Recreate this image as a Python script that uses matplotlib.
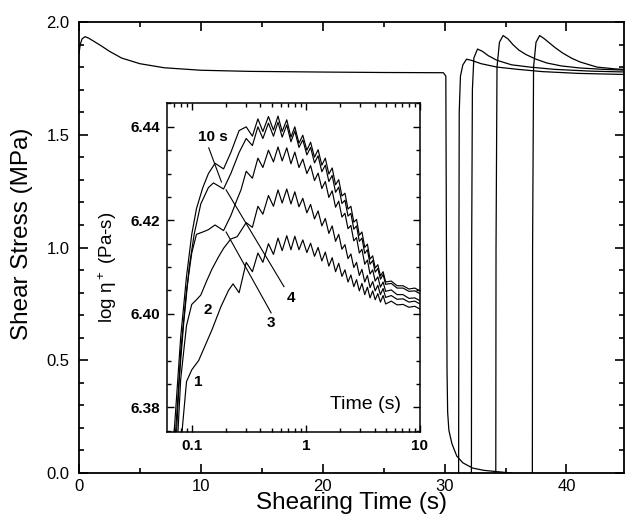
import matplotlib
matplotlib.use("Agg")
import matplotlib.pyplot as plt
from matplotlib.ticker import MultipleLocator, FixedLocator, NullFormatter

plt.rcParams['font.family'] = ['Liberation Sans', 'DejaVu Sans']
plt.rcParams['mathtext.default'] = 'regular'

# ---- main plot: shear stress vs shearing time ----
t_start = [0, 0.1, 0.25, 0.5, 0.8, 1.2, 1.8, 2.5, 3.5, 5, 7, 10, 14, 20, 25, 29.9,
           30.1, 30.15, 30.2, 30.25, 30.35, 30.6, 31.0, 31.5, 32.3, 33.2, 34.3, 35.5]
s_start = [1.86, 1.90, 1.925, 1.935, 1.928, 1.915, 1.895, 1.87, 1.84, 1.815, 1.797, 1.786,
           1.781, 1.778, 1.776, 1.775, 1.76, 1.0, 0.45, 0.27, 0.19, 0.13, 0.075, 0.045,
           0.022, 0.012, 0.006, 0.0]

t_r1 = [31.15, 31.17, 31.2, 31.3, 31.5, 31.8, 32.2, 33, 34.3, 36, 38, 41, 45]
s_r1 = [0, 0.9, 1.6, 1.76, 1.81, 1.835, 1.83, 1.815, 1.80, 1.79, 1.78, 1.772, 1.767]
t_r2 = [32.2, 32.22, 32.28, 32.4, 32.7, 33.1, 33.6, 34.3, 35.5, 37, 39, 42, 45]
s_r2 = [0, 1.0, 1.7, 1.84, 1.88, 1.87, 1.85, 1.83, 1.81, 1.80, 1.79, 1.782, 1.778]
t_r3 = [34.2, 34.22, 34.3, 34.5, 34.8, 35.2, 35.6, 36.1, 36.7, 37.5, 38.4, 39.6, 41.1, 43, 45]
s_r3 = [0, 1.0, 1.8, 1.91, 1.94, 1.925, 1.90, 1.875, 1.855, 1.835, 1.818, 1.805, 1.796, 1.79, 1.786]
t_r4 = [37.2, 37.22, 37.3, 37.5, 37.8, 38.2, 38.6, 39.1, 39.7, 40.4, 41.1, 42.5, 44, 45]
s_r4 = [0, 1.0, 1.8, 1.91, 1.94, 1.925, 1.907, 1.885, 1.862, 1.84, 1.823, 1.80, 1.792, 1.789]

# ---- inset: log eta+ vs time, rest times 1, 2, 3, 4, 10 s ----
# early (non-oscillating) part of each curve
tA0 = [0.068, 0.075, 0.08, 0.09, 0.10, 0.11, 0.125, 0.14, 0.16, 0.19, 0.22, 0.26]
yA0 = [6.370, 6.385, 6.395, 6.408, 6.417, 6.4225, 6.427, 6.430, 6.4322, 6.4310, 6.4345, 6.4392]
tB0 = [0.070, 0.077, 0.085, 0.095, 0.105, 0.12, 0.14, 0.155, 0.19, 0.22, 0.26]
yB0 = [6.370, 6.385, 6.398, 6.410, 6.417, 6.4235, 6.427, 6.428, 6.4267, 6.4300, 6.4345]
tC0 = [0.072, 0.08, 0.09, 0.10, 0.11, 0.125, 0.14, 0.16, 0.19, 0.22, 0.25, 0.27]
yC0 = [6.370, 6.392, 6.405, 6.413, 6.4170, 6.4175, 6.4180, 6.4190, 6.4178, 6.4210, 6.4245, 6.4265]
tD0 = [0.074, 0.08, 0.09, 0.10, 0.11, 0.12, 0.135, 0.15, 0.17, 0.19, 0.22, 0.25]
yD0 = [6.370, 6.386, 6.3975, 6.4020, 6.4030, 6.4040, 6.4070, 6.4095, 6.4120, 6.4140, 6.4160, 6.4165]
tE0 = [0.082, 0.09, 0.10, 0.115, 0.13, 0.15, 0.18, 0.21, 0.23, 0.26]
yE0 = [6.3745, 6.3855, 6.3880, 6.3900, 6.3930, 6.3965, 6.4015, 6.4050, 6.4064, 6.4045]

# oscillating part, read on a common time grid
t_osc = [0.30, 0.34, 0.38, 0.42, 0.47, 0.52, 0.57, 0.62, 0.68, 0.74, 0.80, 0.87, 0.94, 1.02,
         1.10, 1.19, 1.28, 1.38, 1.48, 1.59, 1.70, 1.82, 1.94, 2.07, 2.20, 2.34, 2.48, 2.63,
         2.78, 2.94, 3.10, 3.28, 3.46, 3.65, 3.85, 4.05, 4.27, 4.50, 4.75, 5.0, 5.6, 6.3,
         7.1, 8.0, 9.0, 10.0]
yA = [6.4400, 6.4380, 6.4417, 6.4390, 6.4422, 6.4393, 6.4423, 6.4390, 6.4415, 6.4378,
      6.4400, 6.4365, 6.4382, 6.4350, 6.4367, 6.4335, 6.4351, 6.4318, 6.4333, 6.4299,
      6.4312, 6.4276, 6.4287, 6.4252, 6.4258, 6.4224, 6.4230, 6.4196, 6.4202, 6.4168,
      6.4175, 6.4142, 6.4149, 6.4117, 6.4124, 6.4098, 6.4105, 6.4081, 6.4090, 6.4068,
      6.4070, 6.4060, 6.4060, 6.4053, 6.4055, 6.4049]
yB = [6.4375, 6.4360, 6.4400, 6.4375, 6.4408, 6.4380, 6.4410, 6.4378, 6.4404, 6.4368,
      6.4391, 6.4356, 6.4372, 6.4340, 6.4356, 6.4323, 6.4338, 6.4304, 6.4318, 6.4283,
      6.4296, 6.4260, 6.4271, 6.4236, 6.4243, 6.4209, 6.4215, 6.4181, 6.4188, 6.4155,
      6.4162, 6.4129, 6.4137, 6.4106, 6.4114, 6.4089, 6.4097, 6.4074, 6.4084, 6.4063,
      6.4065, 6.4055, 6.4055, 6.4048, 6.4049, 6.4043]
yC = [6.4305, 6.4290, 6.4333, 6.4313, 6.4350, 6.4325, 6.4357, 6.4327, 6.4355, 6.4321,
      6.4346, 6.4313, 6.4331, 6.4300, 6.4317, 6.4285, 6.4301, 6.4268, 6.4283, 6.4249,
      6.4263, 6.4228, 6.4241, 6.4207, 6.4215, 6.4182, 6.4189, 6.4156, 6.4163, 6.4130,
      6.4138, 6.4106, 6.4115, 6.4085, 6.4094, 6.4070, 6.4079, 6.4057, 6.4068, 6.4048,
      6.4051, 6.4041, 6.4041, 6.4033, 6.4034, 6.4028]
yD = [6.4195, 6.4185, 6.4230, 6.4213, 6.4253, 6.4230, 6.4265, 6.4237, 6.4267, 6.4235,
      6.4261, 6.4229, 6.4247, 6.4216, 6.4234, 6.4203, 6.4220, 6.4188, 6.4204, 6.4172,
      6.4188, 6.4155, 6.4170, 6.4138, 6.4148, 6.4118, 6.4128, 6.4099, 6.4110, 6.4082,
      6.4095, 6.4068, 6.4082, 6.4056, 6.4069, 6.4049, 6.4061, 6.4041, 6.4054, 6.4035,
      6.4039, 6.4031, 6.4032, 6.4025, 6.4027, 6.4021]
yE = [6.4110, 6.4090, 6.4130, 6.4110, 6.4150, 6.4127, 6.4162, 6.4135, 6.4167, 6.4137,
      6.4166, 6.4137, 6.4158, 6.4131, 6.4151, 6.4123, 6.4142, 6.4113, 6.4132, 6.4102,
      6.4120, 6.4090, 6.4108, 6.4080, 6.4094, 6.4068, 6.4083, 6.4058, 6.4073, 6.4049,
      6.4065, 6.4041, 6.4057, 6.4034, 6.4049, 6.4030, 6.4043, 6.4025, 6.4039, 6.4021,
      6.4027, 6.4019, 6.4020, 6.4014, 6.4016, 6.4010]

fig = plt.figure(figsize=(6.25, 5.21), dpi=100)
ax = fig.add_axes([0.1264, 0.0921, 0.8716, 0.8657])

lw = 0.9
ax.plot(t_start, s_start, color='black', lw=lw)
for tt, ss in [(t_r1, s_r1), (t_r2, s_r2), (t_r3, s_r3), (t_r4, s_r4)]:
    ax.plot(tt, ss, color='black', lw=lw)

ax.set_xlim(0, 44.7)
ax.set_ylim(0, 2.0)
ax.xaxis.set_major_locator(MultipleLocator(10))
ax.xaxis.set_minor_locator(MultipleLocator(5))
ax.yaxis.set_major_locator(MultipleLocator(0.5))
ax.yaxis.set_minor_locator(MultipleLocator(0.1))
ax.yaxis.set_major_formatter(matplotlib.ticker.FormatStrFormatter('%.1f'))
ax.tick_params(which='both', direction='in', top=True, right=True, width=1.2, labelsize=12)
ax.tick_params(which='major', length=6.5)
ax.tick_params(axis='x', which='major', pad=4)
ax.tick_params(axis='y', which='major', pad=7)
ax.tick_params(which='minor', length=3.3)
for sp in ax.spines.values():
    sp.set_linewidth(1.3)
ax.set_xlabel('Shearing Time (s)', fontsize=17.5, labelpad=-1)
ax.set_ylabel('Shear Stress (MPa)', fontsize=17.5)
ax.yaxis.set_label_coords(-0.085, 0.53)

# ---- inset ----
ins = fig.add_axes([0.2672, 0.1708, 0.4048, 0.6315])
ins.set_facecolor('white')
ilw = 0.85
for tt0, yy0, yy in [(tA0, yA0, yA), (tB0, yB0, yB), (tC0, yC0, yC), (tD0, yD0, yD), (tE0, yE0, yE)]:
    ins.plot(tt0 + t_osc, yy0 + yy, color='black', lw=ilw)

ins.set_xscale('log')
ins.set_xlim(0.0607, 10)
ins.set_ylim(6.3747, 6.4451)
ins.xaxis.set_major_locator(FixedLocator([0.1, 1, 10]))
ins.set_xticklabels(['0.1', '1', '10'])
ins.xaxis.set_minor_locator(FixedLocator([0.07, 0.08, 0.09, 0.2, 0.3, 0.4, 0.5, 0.6, 0.7, 0.8, 0.9,
                                          2, 3, 4, 5, 6, 7, 8, 9]))
ins.xaxis.set_minor_formatter(NullFormatter())
ins.yaxis.set_major_locator(MultipleLocator(0.02))
ins.yaxis.set_minor_locator(MultipleLocator(0.005))
ins.yaxis.set_major_formatter(matplotlib.ticker.FormatStrFormatter('%.2f'))
ins.tick_params(which='both', direction='in', top=True, right=True, width=1.0, labelsize=11)
ins.tick_params(which='major', length=5, pad=5)
ins.tick_params(which='minor', length=2.8)
for lab in ins.get_xticklabels() + ins.get_yticklabels():
    lab.set_fontweight('bold')
for sp in ins.spines.values():
    sp.set_linewidth(1.1)
ins.set_ylabel('log η$^+$ (Pa-s)', fontsize=13.5, labelpad=8)
ins.text(3.3, 6.3805, 'Time (s)', fontsize=14, ha='center', va='center')

# curve labels with pointer lines
ins.text(0.152, 6.4379, '10 s', fontsize=11, fontweight='bold', ha='center', va='center')
ins.plot([0.141, 0.182], [6.4355, 6.4282], color='black', lw=0.8)
ins.text(0.74, 6.4034, '4', fontsize=11, fontweight='bold', ha='center', va='center')
ins.plot([0.643, 0.20], [6.4058, 6.4265], color='black', lw=0.8)
ins.text(0.496, 6.3980, '3', fontsize=11, fontweight='bold', ha='center', va='center')
ins.plot([0.496, 0.20], [6.4002, 6.4175], color='black', lw=0.8)
ins.text(0.138, 6.4008, '2', fontsize=11, fontweight='bold', ha='center', va='center')
ins.text(0.115, 6.3855, '1', fontsize=11, fontweight='bold', ha='center', va='center')

fig.savefig('out.png', dpi=100)
